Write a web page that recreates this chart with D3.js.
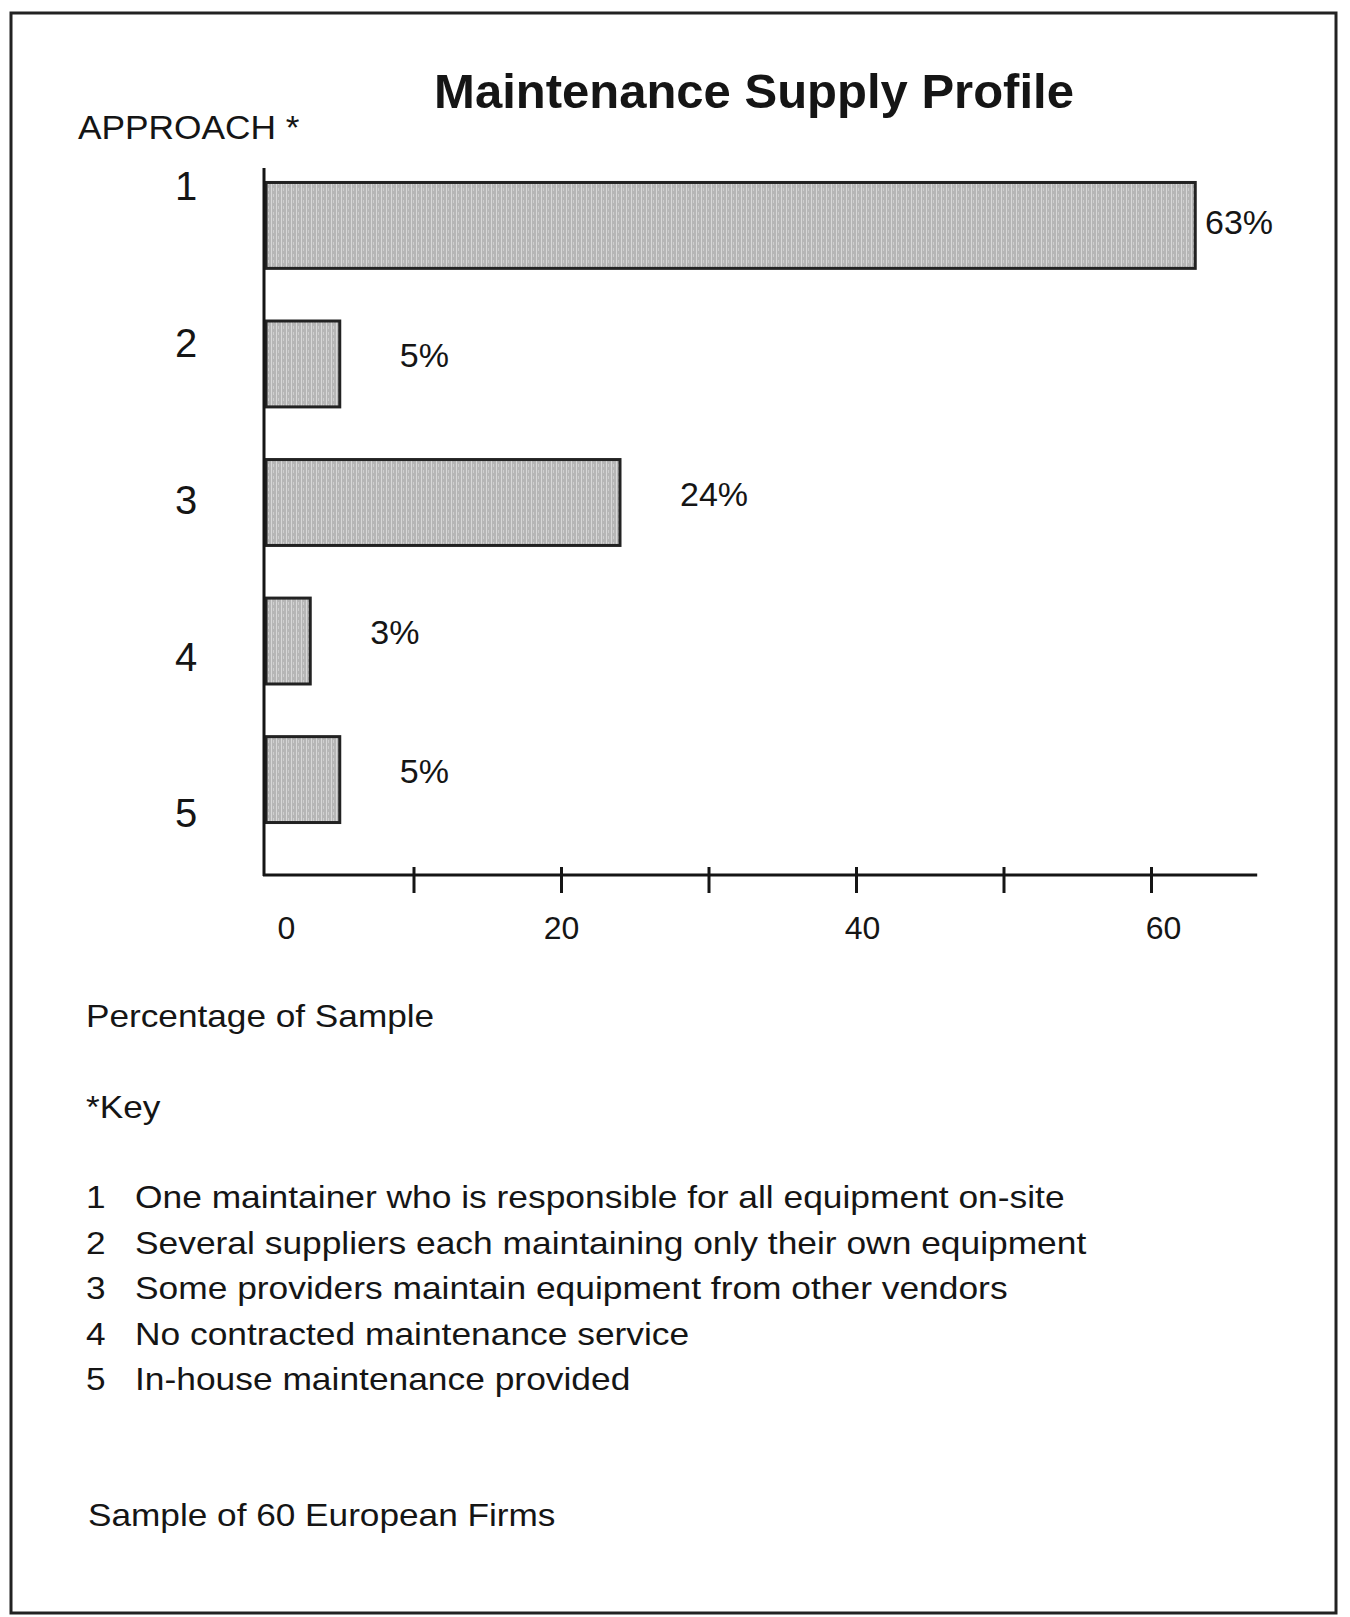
<!DOCTYPE html>
<html>
<head>
<meta charset="utf-8">
<script src="https://cdn.jsdelivr.net/npm/d3@7"></script>
<style>
  html, body { margin: 0; padding: 0; background: #ffffff; }
  svg { display: block; font-family: "Liberation Sans", Arial, Helvetica, sans-serif; }
</style>
</head>
<body>
<svg id="chart" width="1350" height="1617"></svg>
<script>
// Approaches surveyed and their share of the sample (percent)
const approaches = ["1", "2", "3", "4", "5"];
const shares = [63, 5, 24, 3, 5];

// Horizontal axis ticks and which of them carry a number
const axisTicks = [0, 10, 20, 30, 40, 50, 60];
const labelledTicks = [0, 20, 40, 60];

// Key describing each approach
const keyNumbers = ["1", "2", "3", "4", "5"];
const keyTexts = [
  "One maintainer who is responsible for all equipment on-site",
  "Several suppliers each maintaining only their own equipment",
  "Some providers maintain equipment from other vendors",
  "No contracted maintenance service",
  "In-house maintenance provided"
];

const titleText = "Maintenance Supply Profile";
const yHeading = "APPROACH *";
const xHeading = "Percentage of Sample";
const keyHeading = "*Key";
const footnote = "Sample of 60 European Firms";

const svg = d3.select("#chart");
const ink = "#151515";

// Text set in a slightly extended face (horizontal stretch sx)
function wideText(parent, x, y, size, sx, str, weight) {
  return parent.append("text")
    .attr("transform", `translate(${x},${y}) scale(${sx},1)`)
    .attr("font-size", size)
    .attr("font-weight", weight || "normal")
    .attr("fill", ink)
    .text(str);
}

// Page frame
svg.append("rect")
  .attr("x", 11).attr("y", 13)
  .attr("width", 1325).attr("height", 1600)
  .attr("fill", "#ffffff")
  .attr("stroke", "#222").attr("stroke-width", 3);

// Halftone-like fill for the bars
const defs = svg.append("defs");
const pat = defs.append("pattern")
  .attr("id", "barFill")
  .attr("patternUnits", "userSpaceOnUse")
  .attr("width", 5).attr("height", 6);
pat.append("rect").attr("width", 5).attr("height", 6).attr("fill", "#b6b6b6");
pat.append("rect").attr("x", 1).attr("width", 1).attr("height", 6).attr("fill", "#d8d8d8");
pat.append("rect").attr("x", 3).attr("y", 2).attr("width", 1).attr("height", 3).attr("fill", "#cecece");

// Scales
const x = d3.scaleLinear().domain([0, 60]).range([266, 1151]);
const y = d3.scaleBand().domain(approaches)
  .range([170, 835]).paddingInner(0.38).paddingOuter(0.09);
const yLabel = d3.scalePoint().domain(approaches).range([186, 813]);

const axisY = 875;

// Title and headings
svg.append("text")
  .attr("x", 754).attr("y", 108)
  .attr("text-anchor", "middle")
  .attr("font-size", 49).attr("font-weight", "bold")
  .attr("fill", ink)
  .text(titleText);

wideText(svg, 78, 139, 33, 1.07, yHeading);

// Category numbers on the left
svg.append("g").selectAll("text")
  .data(approaches)
  .join("text")
  .attr("x", 186)
  .attr("y", d => yLabel(d))
  .attr("dy", "0.36em")
  .attr("text-anchor", "middle")
  .attr("font-size", 40).attr("fill", ink)
  .text(d => d);

// Bars
const rows = approaches.map((a, i) => ({ a, v: shares[i] }));
svg.append("g").selectAll("rect")
  .data(rows)
  .join("rect")
  .attr("x", x(0))
  .attr("y", d => y(d.a))
  .attr("width", d => x(d.v) - x(0))
  .attr("height", y.bandwidth())
  .attr("fill", "url(#barFill)")
  .attr("stroke", "#222").attr("stroke-width", 3);

// Value labels, kept inside the frame for the longest bar
svg.append("g").selectAll("text")
  .data(rows)
  .join("text")
  .attr("x", d => Math.min(x(d.v) + 60, 1205))
  .attr("y", d => y(d.a) + y.bandwidth() / 2 - (d.v > 60 ? 4 : 9))
  .attr("dy", "0.36em")
  .attr("font-size", 34).attr("fill", ink)
  .text(d => `${d.v}%`);

// Vertical axis line
svg.append("line")
  .attr("x1", 264).attr("x2", 264)
  .attr("y1", 168).attr("y2", axisY + 1)
  .attr("stroke", ink).attr("stroke-width", 3);

// Horizontal axis
const xAxis = d3.axisBottom(x)
  .tickValues(axisTicks)
  .tickFormat(d => labelledTicks.includes(d) ? d : "")
  .tickSizeOuter(0);

const gx = svg.append("g")
  .attr("transform", `translate(0,${axisY})`)
  .call(xAxis);

gx.select(".domain").remove();
gx.append("line")
  .attr("x1", 263).attr("x2", x(67.2))
  .attr("y1", 0).attr("y2", 0)
  .attr("stroke", ink).attr("stroke-width", 3);

gx.selectAll(".tick line")
  .attr("y1", -8).attr("y2", 18)
  .attr("stroke", ink).attr("stroke-width", 3)
  .attr("display", d => d === 0 ? "none" : null);

gx.selectAll(".tick text")
  .attr("y", 64).attr("dy", 0)
  .attr("dx", d => d === 0 ? 20 : d / 20 * 6 - 6)
  .attr("font-family", "Liberation Sans, Arial, sans-serif")
  .attr("font-size", 32).attr("fill", ink);

// Axis caption and key heading
wideText(svg, 86, 1027, 32, 1.1, xHeading);
wideText(svg, 86, 1118, 32, 1.1, keyHeading);

// Key entries
const key = svg.append("g");
keyNumbers.forEach((n, i) => {
  wideText(key, 86, 1208 + i * 45.6, 32, 1.1, n);
  wideText(key, 135, 1208 + i * 45.6, 32, 1.105, keyTexts[i]);
});

// Footnote
wideText(svg, 88, 1526, 32, 1.1, footnote);
</script>
</body>
</html>
